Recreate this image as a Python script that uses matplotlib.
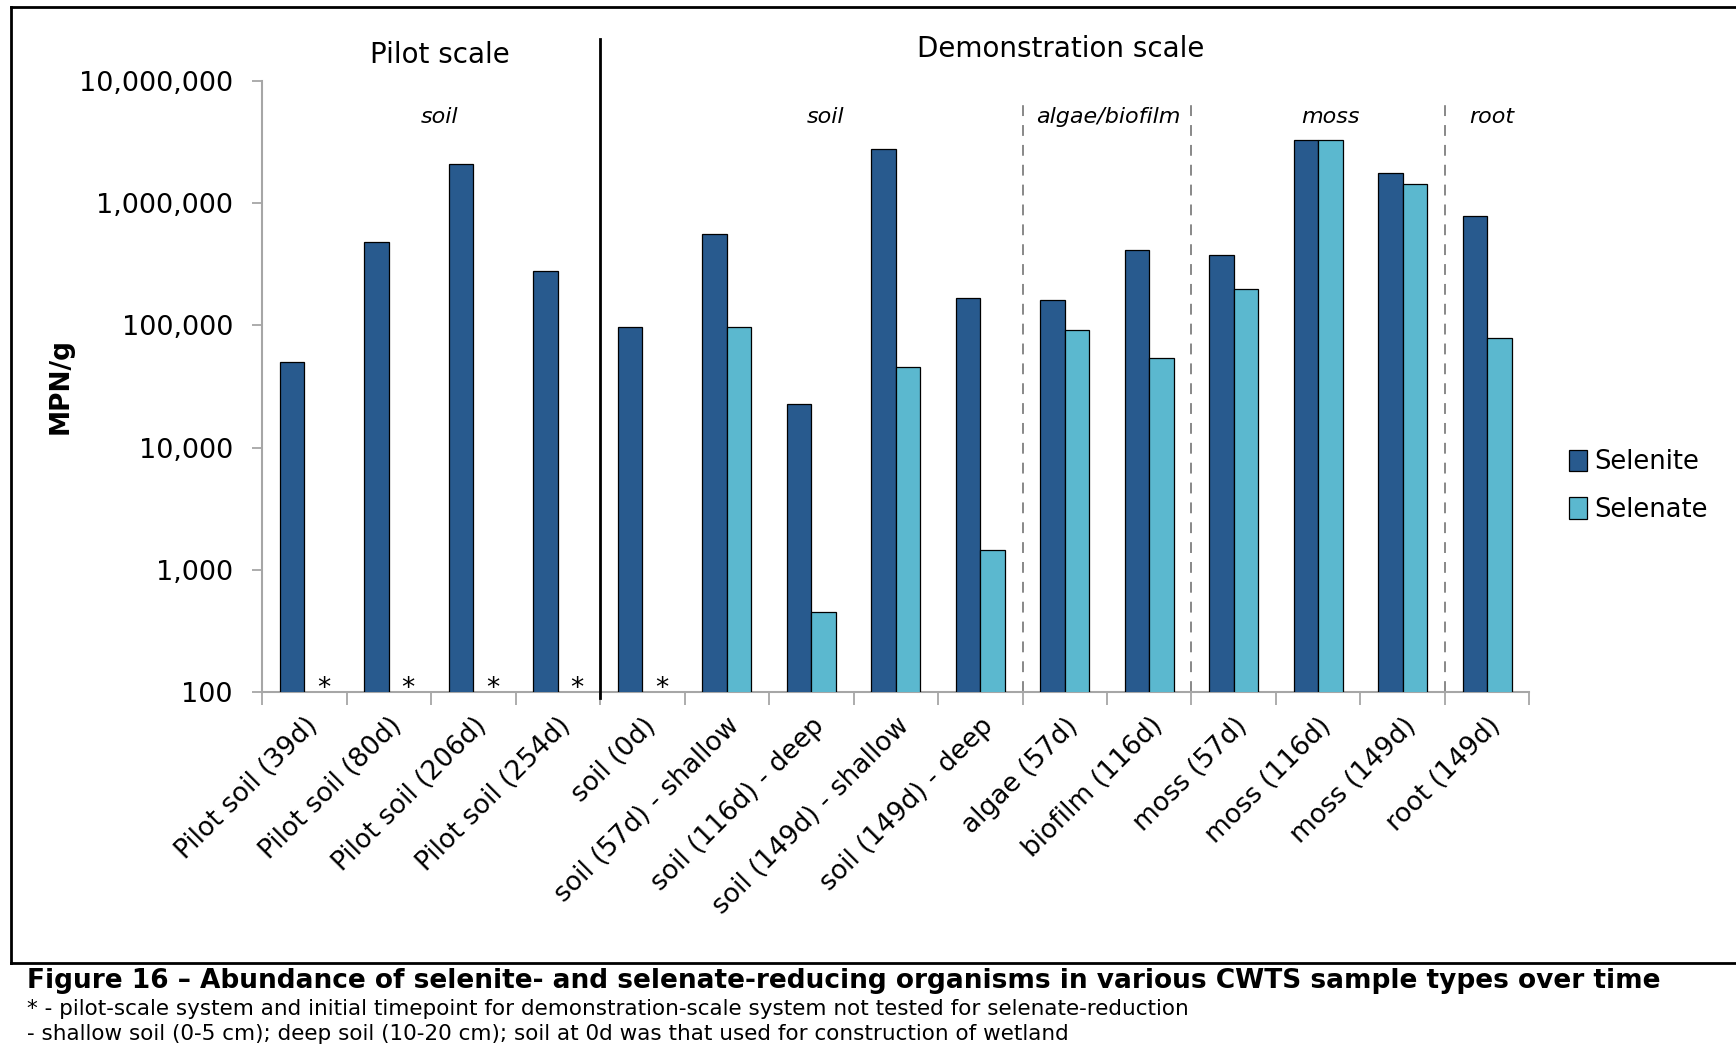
import numpy as np
import matplotlib
matplotlib.use("Agg")
import matplotlib.pyplot as plt
from matplotlib.lines import Line2D
from matplotlib.ticker import FixedLocator, NullLocator

plt.rcParams['font.family'] = ['DejaVu Sans']

# === Data ===
categories = ["Pilot soil (39d)", "Pilot soil (80d)", "Pilot soil (206d)", "Pilot soil (254d)",
              "soil (0d)", "soil (57d) - shallow", "soil (116d) - deep", "soil (149d) - shallow",
              "soil (149d) - deep", "algae (57d)", "biofilm (116d)", "moss (57d)",
              "moss (116d)", "moss (149d)", "root (149d)"]
selenite = [50000, 480000, 2090000, 280000, 97000, 560000, 22600, 2800000, 168000,
            161000, 411000, 378000, 3300000, 1770000, 785000]
# nan = not tested (marked with *)
selenate = [np.nan, np.nan, np.nan, np.nan, np.nan, 97000, 455, 46000, 1440,
            91000, 54000, 198000, 3300000, 1440000, 79000]
ytick_vals = [100, 1000, 10000, 100000, 1000000, 10000000]
ytick_labels = ["100", "1,000", "10,000", "100,000", "1,000,000", "10,000,000"]
group_titles = [("Pilot scale", 2.1, 1.0425), ("Demonstration scale", 9.45, 1.052)]
sub_groups = [("soil", 2.1), ("soil", 6.67), ("algae/biofilm", 10.01), ("moss", 12.65), ("root", 14.55)]
dashed_at = [9, 11, 14]
solid_at = 4

c_selenite = "#285a8e"
c_selenate = "#5bb8cf"
grey = "#a6a6a6"

fig = plt.figure(figsize=(17.36, 10.45), dpi=100)
ax = fig.add_axes([0.151, 0.3378, 0.730, 0.5847])

x = np.arange(len(categories)) + 0.5
w = 0.29
ax.bar(x - w / 2, selenite, width=w, color=c_selenite,
       edgecolor="black", linewidth=0.9, label="Selenite", zorder=3)
sel = np.array(selenate, dtype=float)
ok = ~np.isnan(sel)
ax.bar(x[ok] + w / 2, sel[ok], width=w, color=c_selenate,
       edgecolor="black", linewidth=0.9, label="Selenate", zorder=3)

# asterisks where selenate not tested
for xi in x[~ok]:
    ax.text(xi + w / 2 + 0.08, -0.017, "*", transform=ax.get_xaxis_transform(),
            ha="center", va="bottom", fontsize=19)

ax.set_yscale("log")
ax.set_ylim(100, 1e7)
ax.set_xlim(0, len(categories))
ax.yaxis.set_major_locator(FixedLocator(ytick_vals))
ax.yaxis.set_minor_locator(NullLocator())
ax.set_yticklabels(ytick_labels, fontsize=19.5)

ax.set_xticks(np.arange(len(categories) + 1))
ax.set_xticklabels([])
ax.set_xticks(x, minor=True)
ax.set_xticklabels(categories, minor=True, rotation=45, ha="right",
                   rotation_mode="anchor", fontsize=19)
ax.tick_params(axis="x", which="minor", length=0, pad=15)
ax.tick_params(axis="x", which="major", direction="out", length=9, width=1.3, color=grey)
ax.tick_params(axis="y", which="major", direction="out", length=7, width=1.3, color=grey, pad=14)

for s in ["top", "right"]:
    ax.spines[s].set_visible(False)
for s in ["left", "bottom"]:
    ax.spines[s].set_color(grey)
    ax.spines[s].set_linewidth(1.5)

ax.set_ylabel("MPN/g", fontsize=19, fontweight="bold", labelpad=4)

# dividers between scales and sample types
ax.add_line(Line2D([solid_at, solid_at], [-0.01, 1.069], transform=ax.get_xaxis_transform(),
                   color="black", linewidth=2, clip_on=False, zorder=4))
for d in dashed_at:
    ax.add_line(Line2D([d, d], [0, 0.969], transform=ax.get_xaxis_transform(),
                       color="#7f7f7f", linewidth=1.3, linestyle=(0, (6, 5)), clip_on=False))

for name, xc, yf in group_titles:
    ax.text(xc, yf, name, transform=ax.get_xaxis_transform(), ha="center", va="center", fontsize=20)
for name, xc in sub_groups:
    ax.text(xc, 0.941, name, transform=ax.get_xaxis_transform(), ha="center", va="center",
            fontsize=16, style="italic")

ax.legend(loc="center left", bbox_to_anchor=(1.031, 0.337), frameon=False, fontsize=18.5,
          borderpad=0, borderaxespad=0,
          handlelength=0.7, handleheight=0.9, handletextpad=0.3, labelspacing=0.85)

# frame and caption
fig.add_artist(Line2D([0.0064, 1.0], [0.9937, 0.9937], color="black", linewidth=2))
fig.add_artist(Line2D([0.0064, 0.0064], [0.0785, 0.9937], color="black", linewidth=2))
fig.add_artist(Line2D([0.0064, 1.0], [0.0785, 0.0785], color="black", linewidth=2))

fig.text(0.0153, 0.061, "Figure 16 \u2013 Abundance of selenite- and selenate-reducing organisms in various CWTS sample types over time",
         fontsize=19, fontweight="bold", va="center")
fig.text(0.0153, 0.0345, "* - pilot-scale system and initial timepoint for demonstration-scale system not tested for selenate-reduction",
         fontsize=15.5, va="center")
fig.text(0.0153, 0.011, "- shallow soil (0-5 cm); deep soil (10-20 cm); soil at 0d was that used for construction of wetland",
         fontsize=15.5, va="center")

fig.savefig("out.png", dpi=100)
